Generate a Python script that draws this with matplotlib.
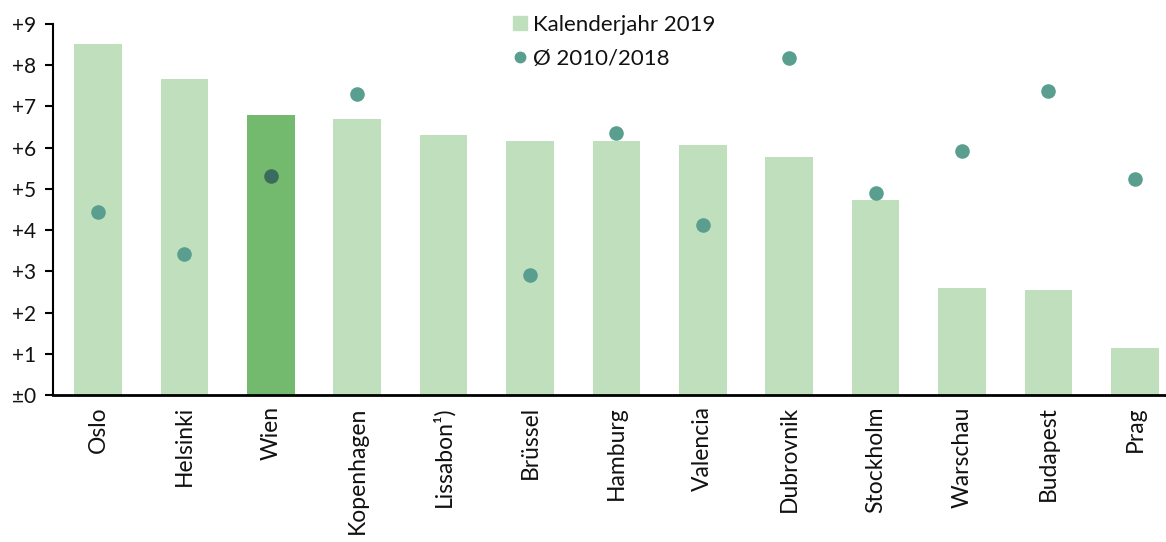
import matplotlib
matplotlib.use("Agg")
import matplotlib.pyplot as plt
from matplotlib.lines import Line2D

categories = ["Oslo", "Helsinki", "Wien", "Kopenhagen", "Lissabon¹)", "Brüssel", "Hamburg",
              "Valencia", "Dubrovnik", "Stockholm", "Warschau", "Budapest", "Prag"]
bars_2019 = [8.50, 7.67, 6.80, 6.70, 6.31, 6.17, 6.17, 6.07, 5.78, 4.72, 2.60, 2.55, 1.14]
avg_2010_2018 = [4.45, 3.43, 5.32, 7.30, None, 2.91, 6.36, 4.13, 8.18, 4.90, 5.92, 7.38, 5.24]
yticks = [0, 1, 2, 3, 4, 5, 6, 7, 8, 9]
ytick_labels = ["±0", "+1", "+2", "+3", "+4", "+5", "+6", "+7", "+8", "+9"]

light_bar = "#bfdfbd"
dark_bar = "#73b96e"
dot_col = "#5a9e90"
dark_dot = "#3a6b5e"

plt.rcParams['font.family'] = ['Lato', 'DejaVu Sans']

fig = plt.figure(figsize=(11.66, 5.42), dpi=100)
ax = fig.add_axes([0.0455, 0.271, 0.9545, 0.685])

x = list(range(len(categories)))
colors = [dark_bar if c == "Wien" else light_bar for c in categories]
ax.bar(x, bars_2019, width=0.55, color=colors, zorder=2)

for i, (c, v) in enumerate(zip(categories, avg_2010_2018)):
    if v is None:
        continue
    ax.scatter([i], [v], s=110, color=dark_dot if c == "Wien" else dot_col,
               zorder=3, linewidths=0)

ax.set_xlim(-0.52, 12.36)
ax.set_ylim(0, 9)
ax.set_yticks(yticks)
ax.set_yticklabels(ytick_labels, fontsize=15, color="#111111")
ax.set_xticks(x)
ax.set_xticklabels(categories, rotation=90, fontsize=16.5, va="top", ha="center",
                   color="#111111")
ax.tick_params(axis="x", length=0, pad=8)
ax.tick_params(axis="y", length=6, width=1.5, direction="out", pad=6)
for s in ["top", "right"]:
    ax.spines[s].set_visible(False)
ax.spines["left"].set_linewidth(1.5)
ax.spines["bottom"].set_linewidth(2)

handles = [Line2D([], [], linestyle="none", marker="s", markersize=10, color=light_bar),
           Line2D([], [], linestyle="none", marker="o", markersize=7.5, color=dot_col)]
leg = fig.legend(handles, ["Kalenderjahr 2019", "Ø 2010/2018"], loc="upper left",
                 bbox_to_anchor=(0.419, 1.01), frameon=False, fontsize=16,
                 handletextpad=0.1, labelspacing=0.65, handlelength=1.0)
for t in leg.get_texts():
    t.set_color("#111111")

fig.savefig("out.png", dpi=100)
